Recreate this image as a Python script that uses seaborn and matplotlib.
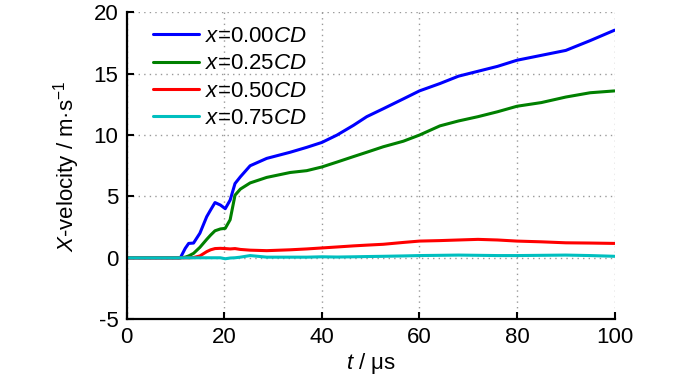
import numpy as np
import pandas as pd
import matplotlib
matplotlib.use('Agg')
import matplotlib.pyplot as plt
import seaborn as sns

# data (t in us, X-velocity in m/s)
t = [0, 10, 11, 12, 12.7, 13.7, 15, 16.4, 17.2, 18.1, 19.2, 20.2, 21.2, 22.2, 23.3,
     25.3, 28.7, 33.5, 36.9, 40, 43.1, 46.5, 49.2, 52.6, 56.7, 60, 64.2, 68, 72,
     76, 80, 85, 90, 95, 100]
v000 = [0, 0, 0, 0.77, 1.17, 1.2, 2.0, 3.35, 3.9, 4.5, 4.3, 4.0, 4.7, 6.05, 6.6,
        7.5, 8.1, 8.6, 9.0, 9.4, 10.0, 10.8, 11.5, 12.15, 12.95, 13.6, 14.2, 14.8, 15.2,
        15.6, 16.1, 16.5, 16.9, 17.7, 18.55]
v025 = [0, 0, 0, 0.05, 0.15, 0.36, 0.85, 1.5, 1.85, 2.2, 2.35, 2.4, 3.1, 5.1, 5.6,
        6.1, 6.55, 6.95, 7.1, 7.4, 7.8, 8.25, 8.6, 9.05, 9.5, 10.0, 10.75, 11.15, 11.5,
        11.9, 12.35, 12.65, 13.1, 13.45, 13.6]
v050 = [0, 0, 0, 0, 0, 0.02, 0.15, 0.5, 0.65, 0.75, 0.77, 0.75, 0.72, 0.75, 0.68,
        0.62, 0.58, 0.65, 0.72, 0.8, 0.88, 0.97, 1.03, 1.1, 1.25, 1.36, 1.4, 1.45, 1.5,
        1.45, 1.36, 1.3, 1.22, 1.2, 1.17]
v075 = [0, 0, 0, 0, 0, 0, 0, 0, 0, 0, 0, -0.08, -0.02, 0, 0.05,
        0.18, 0.05, 0.05, 0.05, 0.08, 0.06, 0.08, 0.1, 0.12, 0.15, 0.18, 0.2, 0.22, 0.2,
        0.18, 0.18, 0.2, 0.22, 0.18, 0.12]
labels = [r'$x$=0.00$CD$', r'$x$=0.25$CD$', r'$x$=0.50$CD$', r'$x$=0.75$CD$']
colors = ['#0000ff', '#008000', '#ff0000', '#00bfbf']

df = pd.concat([pd.DataFrame({'t': t, 'v': s, 'pos': lab})
                for s, lab in zip([v000, v025, v050, v075], labels)])

sns.set_style('white')
fam = 'Liberation Sans'
plt.rcParams['font.family'] = [fam, 'DejaVu Sans']
plt.rcParams['mathtext.fontset'] = 'custom'
plt.rcParams['mathtext.rm'] = fam
plt.rcParams['mathtext.it'] = fam + ':italic'
plt.rcParams['axes.unicode_minus'] = False
plt.rcParams['text.color'] = 'black'
plt.rcParams['axes.labelcolor'] = 'black'
plt.rcParams['xtick.color'] = 'black'
plt.rcParams['ytick.color'] = 'black'

fig = plt.figure(figsize=(7, 3.75), dpi=100)
ax = fig.add_axes([0.181, 0.149, 0.697, 0.818])
sns.lineplot(data=df, x='t', y='v', hue='pos', palette=colors, linewidth=2.2, ax=ax)

ax.set_xlim(0, 100)
ax.set_ylim(-5, 20)
ax.set_xticks([0, 20, 40, 60, 80, 100])
ax.set_yticks([-5, 0, 5, 10, 15, 20])
ax.grid(True, linestyle=(0, (1, 3)), color='#999999', linewidth=1)
for s in ['top', 'right']:
    ax.spines[s].set_visible(False)
for s in ['left', 'bottom']:
    ax.spines[s].set_linewidth(1.6)
    ax.spines[s].set_color('black')
ax.tick_params(direction='in', length=5, width=1.5, labelsize=16, pad=6,
               left=True, bottom=True, colors='black')
ax.set_xlabel(r'$t$ / μs', fontsize=16, labelpad=2)
ax.set_ylabel(r'$X$-velocity / m·s$^{\mathregular{-1}}$', fontsize=16, labelpad=8)

ax.legend(loc='upper left', bbox_to_anchor=(0.053, 0.955), frameon=False, fontsize=16,
          handlelength=2.1, handletextpad=0.25, labelspacing=0.28, borderaxespad=0,
          borderpad=0)
for line in ax.get_legend().get_lines():
    line.set_linewidth(2.2)

fig.savefig('out.png', dpi=100)
